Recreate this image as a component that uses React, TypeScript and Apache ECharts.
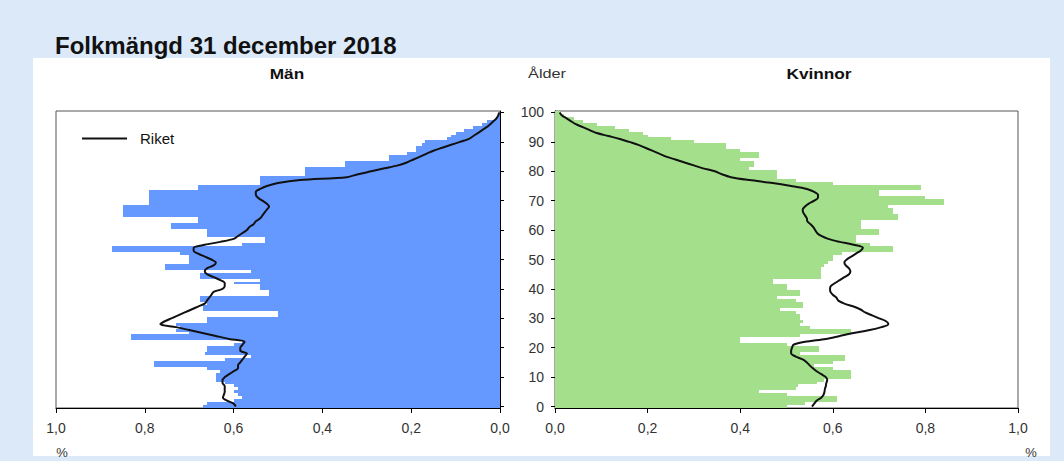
import { useEffect, useRef } from "react";
import * as echarts from "echarts";

const ages: string[] = Array.from({ length: 101 }, (_, i) => String(i));

const menBars = [
  0.67, 0.66, 0.60, 0.58, 0.59, 0.60, 0.59, 0.60, 0.62, 0.64,
  0.64, 0.64, 0.63, 0.66, 0.78, 0.78, 0.62, 0.56, 0.665, 0.66,
  0.66, 0.60, 0.58, 0.83, 0.83, 0.70, 0.73, 0.72, 0.73, 0.66,
  0.66, 0.50, 0.50, 0.67, 0.67, 0.66, 0.675, 0.675, 0.52, 0.52,
  0.54, 0.54, 0.60, 0.54, 0.675, 0.675, 0.56, 0.755, 0.755, 0.70,
  0.70, 0.70, 0.72, 0.875, 0.875, 0.58, 0.53, 0.53, 0.66, 0.66,
  0.66, 0.74, 0.74, 0.68, 0.68, 0.85, 0.85, 0.85, 0.85, 0.79,
  0.79, 0.79, 0.79, 0.79, 0.68, 0.68, 0.54, 0.54, 0.54, 0.44,
  0.44, 0.44, 0.35, 0.35, 0.25, 0.25, 0.21, 0.19, 0.19, 0.175,
  0.17, 0.12, 0.11, 0.10, 0.08, 0.06, 0.04, 0.03, 0.01, 0.005,
  0.0,
];

const womenBars = [
  0.50, 0.54, 0.61, 0.61, 0.50, 0.44, 0.52, 0.525, 0.565, 0.58,
  0.64, 0.64, 0.64, 0.60, 0.56, 0.60, 0.627, 0.627, 0.53, 0.57,
  0.57, 0.50, 0.40, 0.40, 0.53, 0.64, 0.64, 0.55, 0.53, 0.535,
  0.53, 0.53, 0.52, 0.485, 0.535, 0.535, 0.52, 0.48, 0.53, 0.53,
  0.50, 0.50, 0.47, 0.47, 0.575, 0.575, 0.575, 0.575, 0.58, 0.59,
  0.60, 0.60, 0.62, 0.73, 0.73, 0.68, 0.65, 0.65, 0.65, 0.70,
  0.70, 0.66, 0.66, 0.66, 0.74, 0.74, 0.73, 0.73, 0.72, 0.84,
  0.84, 0.80, 0.70, 0.70, 0.79, 0.79, 0.60, 0.52, 0.48, 0.48,
  0.48, 0.42, 0.43, 0.43, 0.40, 0.44, 0.44, 0.40, 0.37, 0.37,
  0.30, 0.25, 0.20, 0.19, 0.16, 0.13, 0.09, 0.06, 0.04, 0.02,
  0.01,
];

const menRiket = [
  0.595, 0.60, 0.615, 0.624, 0.622, 0.62, 0.62, 0.62, 0.625, 0.625,
  0.62, 0.61, 0.60, 0.59, 0.59, 0.585, 0.58, 0.575, 0.57, 0.585,
  0.585, 0.58, 0.575, 0.61, 0.64, 0.67, 0.70, 0.73, 0.765, 0.755,
  0.74, 0.725, 0.71, 0.695, 0.68, 0.665, 0.66, 0.655, 0.65, 0.645,
  0.625, 0.62, 0.62, 0.63, 0.645, 0.66, 0.665, 0.66, 0.645, 0.64,
  0.65, 0.665, 0.68, 0.69, 0.69, 0.665, 0.63, 0.60, 0.59, 0.58,
  0.57, 0.565, 0.555, 0.55, 0.54, 0.535, 0.53, 0.525, 0.52, 0.525,
  0.535, 0.545, 0.55, 0.55, 0.54, 0.525, 0.50, 0.45, 0.345, 0.32,
  0.29, 0.26, 0.23, 0.21, 0.195, 0.18, 0.165, 0.15, 0.13, 0.11,
  0.09, 0.07, 0.06, 0.05, 0.04, 0.03, 0.022, 0.015, 0.008, 0.004,
  0.002,
];

const womenRiket = [
  0.555, 0.56, 0.565, 0.575, 0.58, 0.582, 0.583, 0.585, 0.586, 0.588,
  0.585, 0.575, 0.565, 0.557, 0.55, 0.544, 0.535, 0.52, 0.51, 0.51,
  0.512, 0.515, 0.54, 0.585, 0.615, 0.645, 0.68, 0.705, 0.72, 0.715,
  0.70, 0.685, 0.67, 0.66, 0.645, 0.625, 0.612, 0.608, 0.60, 0.595,
  0.594, 0.596, 0.605, 0.615, 0.625, 0.635, 0.638, 0.635, 0.628, 0.625,
  0.63, 0.64, 0.65, 0.66, 0.665, 0.645, 0.615, 0.59, 0.575, 0.566,
  0.562, 0.558, 0.552, 0.545, 0.544, 0.54, 0.536, 0.535, 0.54, 0.548,
  0.56, 0.568, 0.568, 0.56, 0.544, 0.51, 0.47, 0.42, 0.38, 0.36,
  0.345, 0.32, 0.30, 0.28, 0.26, 0.24, 0.225, 0.21, 0.195, 0.18,
  0.16, 0.14, 0.115, 0.09, 0.075, 0.06, 0.045, 0.035, 0.025, 0.015,
  0.01,
];

const fmt = (v: number) => v.toFixed(1).replace(".", ",");
const FONT = "Liberation Sans";
const MEN_COLOR = "#6699ff";
const WOMEN_COLOR = "#a4e08c";

export default function App() {
  const ref = useRef<HTMLDivElement>(null);

  useEffect(() => {
    if (!ref.current) return;
    const chart = echarts.init(ref.current, null, { renderer: "svg" });

    const xAxisBase = {
      type: "value" as const,
      min: 0,
      max: 1,
      interval: 0.2,
      axisLine: { show: true, lineStyle: { color: "#000", width: 1 } },
      axisTick: { show: true, length: 5, lineStyle: { color: "#000" } },
      axisLabel: { formatter: fmt, fontSize: 14, color: "#333", margin: 13, fontFamily: FONT },
      splitLine: { show: false },
    };

    const everyTen = (idx: number) => idx % 10 === 0;

    chart.setOption({
      animation: false,
      textStyle: { fontFamily: FONT },
      title: {
        text: "Folkmängd 31 december 2018",
        left: 50,
        top: 28,
        textStyle: { fontSize: 24, fontWeight: "bold", color: "#111", fontFamily: FONT },
      },
      legend: {
        data: ["Riket"],
        left: 82,
        top: 131,
        padding: 0,
        icon: "rect",
        itemWidth: 45,
        itemHeight: 2,
        textStyle: { fontSize: 15, color: "#111", padding: [0, 0, 0, 8] },
      },
      graphic: [
        { type: "rect", z: -10, shape: { x: 33, y: 58, width: 1017, height: 398 }, style: { fill: "#ffffff" } },
        { type: "text", x: 287, y: 73, scaleX: 1.15, style: { text: "Män", fontSize: 15, fontWeight: "bold", fill: "#111", textAlign: "center", textVerticalAlign: "middle", fontFamily: FONT } },
        { type: "text", x: 547, y: 74, scaleX: 1.25, style: { text: "Ålder", fontSize: 13, fill: "#333", textAlign: "center", textVerticalAlign: "middle", fontFamily: FONT } },
        { type: "text", x: 819, y: 73, scaleX: 1.15, style: { text: "Kvinnor", fontSize: 15, fontWeight: "bold", fill: "#111", textAlign: "center", textVerticalAlign: "middle", fontFamily: FONT } },
        { type: "text", x: 62, y: 452, style: { text: "%", fontSize: 13, fill: "#333", textAlign: "center", textVerticalAlign: "middle", fontFamily: FONT } },
        { type: "text", x: 1031, y: 452, style: { text: "%", fontSize: 13, fill: "#333", textAlign: "center", textVerticalAlign: "middle", fontFamily: FONT } },
      ],
      grid: [
        { left: 56, right: 564, top: 111, bottom: 53, show: true, borderColor: "#555", borderWidth: 1, backgroundColor: "transparent" },
        { left: 555, right: 46, top: 111, bottom: 53, show: true, borderColor: "#555", borderWidth: 1, backgroundColor: "transparent" },
      ],
      xAxis: [
        { ...xAxisBase, gridIndex: 0, inverse: true },
        { ...xAxisBase, gridIndex: 1 },
      ],
      yAxis: [
        {
          type: "category",
          gridIndex: 0,
          data: ages,
          position: "right",
          axisLine: { show: true, lineStyle: { color: "#000" } },
          axisTick: { show: true, interval: everyTen, alignWithLabel: true, length: 4, lineStyle: { color: "#000" } },
          axisLabel: { show: false, interval: everyTen },
          splitLine: { show: false },
        },
        {
          type: "category",
          gridIndex: 1,
          data: ages,
          position: "left",
          axisLine: { show: true, lineStyle: { color: "#000" } },
          axisTick: { show: true, interval: everyTen, alignWithLabel: true, length: 4, lineStyle: { color: "#000" } },
          axisLabel: { show: true, interval: everyTen, fontSize: 14, color: "#333", margin: 11, fontFamily: FONT },
          splitLine: { show: false },
        },
      ],
      series: [
        {
          name: "Män",
          type: "bar",
          xAxisIndex: 0,
          yAxisIndex: 0,
          data: menBars,
          barCategoryGap: "0%",
          itemStyle: { color: MEN_COLOR },
        },
        {
          name: "Kvinnor",
          type: "bar",
          xAxisIndex: 1,
          yAxisIndex: 1,
          data: womenBars,
          barCategoryGap: "0%",
          itemStyle: { color: WOMEN_COLOR },
        },
        {
          name: "Riket",
          type: "line",
          xAxisIndex: 0,
          yAxisIndex: 0,
          data: menRiket,
          symbol: "none",
          showSymbol: false,
          smooth: 0.3,
          color: "#111",
          lineStyle: { color: "#111", width: 2 },
          z: 5,
        },
        {
          name: "Riket",
          type: "line",
          xAxisIndex: 1,
          yAxisIndex: 1,
          data: womenRiket,
          symbol: "none",
          showSymbol: false,
          smooth: 0.3,
          color: "#111",
          lineStyle: { color: "#111", width: 2 },
          z: 5,
        },
      ],
    });

    return () => chart.dispose();
  }, []);

  const css = `path[fill="${MEN_COLOR}"], path[fill="${WOMEN_COLOR}"], path[fill="rgb(102,153,255)"], path[fill="rgb(164,224,140)"] { shape-rendering: crispEdges; }`;

  return (
    <div style={{ position: "absolute", left: 0, top: 0, width: 1064, height: 461, background: "#dce9f9" }}>
      <style>{css}</style>
      <div ref={ref} style={{ width: 1064, height: 461 }} />
    </div>
  );
}
